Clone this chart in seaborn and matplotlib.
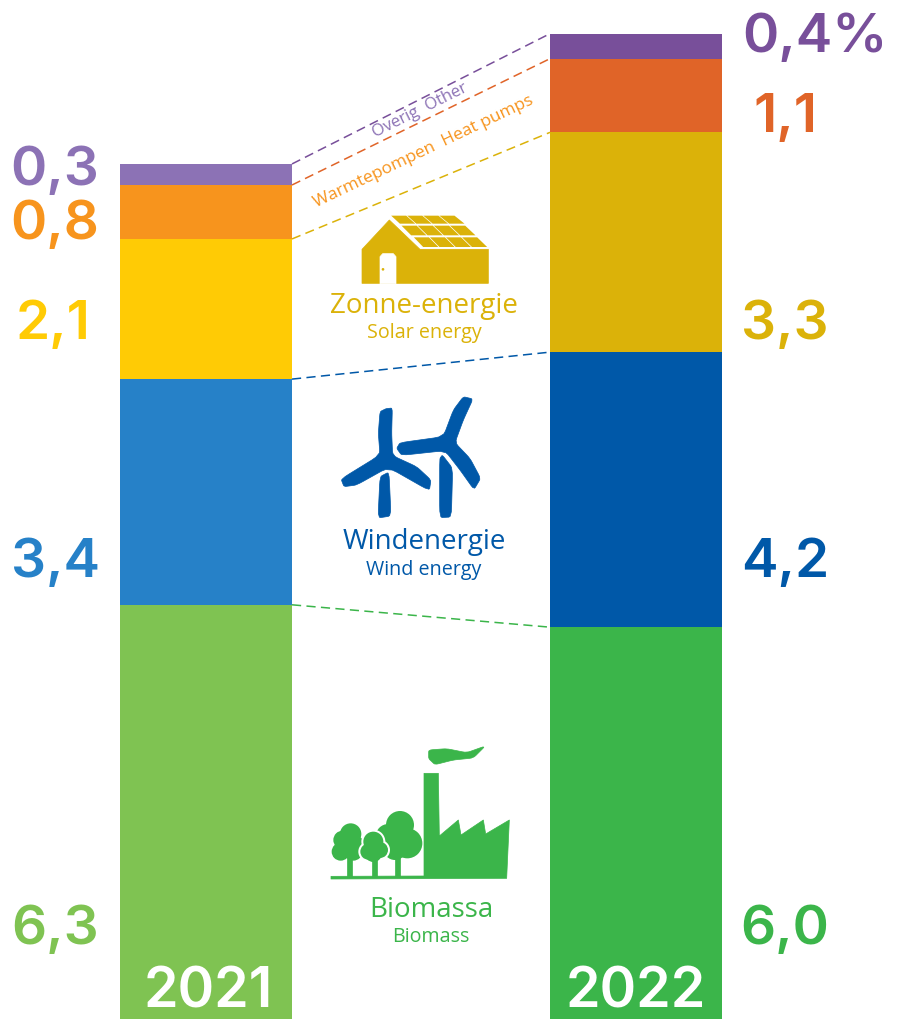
import numpy as np
import pandas as pd
import seaborn as sns
import matplotlib.pyplot as plt
from matplotlib.patches import Polygon, Circle

years = ['2021', '2022']
values_2021 = [6.31, 3.43, 2.13, 0.82, 0.32]
values_2022 = [5.97, 4.18, 3.34, 1.12, 0.38]
labels_2021 = ['6,3', '3,4', '2,1', '0,8', '0,3']
labels_2022 = ['6,0', '4,2', '3,3', '1,1', '0,4%']
colors_2021 = ['#7fc352', '#2681c8', '#ffcb05', '#f7941d', '#8c72b5']
colors_2022 = ['#3bb54a', '#0058a8', '#dbb209', '#e06428', '#784f9a']
baselines_2021 = [944, 577, 339, 239, 185]
baselines_2022 = [944, 577, 339, 132, 52]

GOLD, BLUE, GREEN = colors_2022[2], colors_2022[1], colors_2022[0]

sns.set_theme(style='white')
plt.rcParams['font.family'] = ['Open Sans', 'DejaVu Sans']

fig = plt.figure(figsize=(8.97, 10.2), dpi=100)
ax = fig.add_axes([0, 0, 1, 1])

# stacked bars, one barplot call per segment
for year, vals, cols in zip(years, [values_2021, values_2022], [colors_2021, colors_2022]):
    bottom = 0
    for v, c in zip(vals, cols):
        df = pd.DataFrame({'year': [year], 'value': [v]})
        sns.barplot(data=df, x='year', y='value', order=years, ax=ax, width=0.4,
                    color=c, bottom=bottom, saturation=1, linewidth=0, errorbar=None)
        bottom += v

# dashed connectors between the segment tops
tops_2021 = np.cumsum(values_2021)
tops_2022 = np.cumsum(values_2022)
for a, b, c in zip(tops_2021, tops_2022, colors_2022):
    ax.plot([0.2, 0.8], [a, b], color=c, lw=1.1, ls=(0, (6, 3.5)))

ax.set_xlim(-206 / 430, (897 - 206) / 430)
ax.set_ylim(1 / 65.8, 1021 / 65.8)
ax.axis('off')

# overlay in picture pixels for text and icons
ov = fig.add_axes([0, 0, 1, 1])
ov.set_xlim(0, 897)
ov.set_ylim(1020, 0)
ov.axis('off')
ov.patch.set_alpha(0)

num_font = dict(family=['Inter', 'Open Sans'], fontsize=39.5, fontweight='semibold', va='baseline', ha='center')
for lab, c, y in zip(labels_2021, colors_2021, baselines_2021):
    ov.text(53 if lab == '2,1' else 55, y, lab, color=c, **num_font)
for lab, c, y in zip(labels_2022, colors_2022, baselines_2022):
    ov.text(815 if '%' in lab else 785, y, lab, color=c, **num_font)

year_font = dict(family=['Inter', 'Open Sans'], fontsize=40, fontweight='semibold', ha='center', va='baseline', color='white')
ov.text(208, 1008, '2021', **year_font)
ov.text(636, 1008, '2022', **year_font)

ov.text(420, 111, 'Overig  Other', color=colors_2021[4], fontsize=12, rotation=26.5,
        ha='center', va='center', rotation_mode='anchor')
ov.text(424, 152, 'Warmtepompen  Heat pumps', color=colors_2021[3], fontsize=12.5, rotation=25.5,
        ha='center', va='center', rotation_mode='anchor')

names = [('Zonne-energie', 'Solar energy', 424, 306, 333, GOLD),
         ('Windenergie', 'Wind energy', 424, 542, 570, BLUE),
         ('Biomassa', 'Biomass', 431, 910, 937, GREEN)]
for nl, en, x, y1, y2, c in names:
    ov.text(x, y1, nl, color=c, fontsize=20, ha='center', va='center')
    ov.text(x, y2, en, color=c, fontsize=14.2, ha='center', va='center')


def chaikin(pts, n=2, cut=0.12):
    # corner cutting, gives the icons their soft outlines
    pts = np.array(pts, dtype=float)
    for _ in range(n):
        nxt = np.roll(pts, -1, axis=0)
        pts = np.column_stack([(1 - cut) * pts + cut * nxt, cut * pts + (1 - cut) * nxt]).reshape(-1, 2)
    return pts


def poly(pts, origin, color, smooth=False, lw=0.5):
    if smooth:
        pts = chaikin(pts)
    xy = [(origin[0] + px / 3, origin[1] + py / 3) for px, py in pts]
    ov.add_patch(Polygon(xy, closed=True, facecolor=color, edgecolor=color, lw=lw, joinstyle='round'))


def circ(x, y, r, origin, color):
    ov.add_patch(Circle((origin[0] + x / 3, origin[1] + y / 3), r / 3, facecolor=color, lw=0))


# house
o = (300, 61)
poly([(186, 568), (268, 480), (360, 568), (565, 568), (565, 670), (186, 670)], o, GOLD)
poly([(240, 590), (248, 581), (280, 581), (288, 590), (288, 671), (240, 671)], o, 'white')
circ(249, 628, 4, o, GOLD)
rows = [((272, 467), (465, 467), (495, 491), (298, 491)),
        ((303, 497), (497, 497), (528, 526), (332, 526)),
        ((340, 532), (533, 532), (563, 561), (368, 561))]
for tl, tr, br, bl in rows:
    for k in range(4):
        s, e = k / 4 + 0.008, (k + 1) / 4 - 0.008
        poly([(tl[0] + (tr[0] - tl[0]) * s, tl[1]), (tl[0] + (tr[0] - tl[0]) * e, tl[1]),
              (bl[0] + (br[0] - bl[0]) * e, bl[1]), (bl[0] + (br[0] - bl[0]) * s, bl[1])], o, GOLD, lw=0)

# wind turbines
o = (320, 391)
poly([(180, 65), (198, 56), (217, 54), (215, 130), (218, 197), (290, 230), (333, 270), (328, 302),
      (205, 232), (110, 285), (72, 290), (63, 267), (180, 195), (175, 130)], o, BLUE, smooth=True)
poly([(180, 260), (207, 246), (213, 378), (174, 384)], o, BLUE, smooth=True)
poly([(370, 140), (400, 60), (430, 20), (459, 27), (430, 90), (405, 158), (450, 205),
      (482, 265), (462, 299), (420, 240), (375, 182), (245, 196), (230, 175), (240, 158)], o, BLUE, smooth=True)
poly([(359, 206), (367, 195), (398, 235), (394, 381), (359, 383)], o, BLUE, smooth=True)

# factory and trees
o = (320, 741)
poly([(312, 100), (355, 100), (358, 288), (415, 240), (423, 285), (490, 240), (497, 282),
      (568, 240), (560, 415), (33, 417), (33, 409), (312, 408)], o, GREEN)
poly([(326, 30), (380, 26), (440, 38), (496, 18), (460, 54), (400, 60), (345, 74), (326, 56)], o, GREEN, smooth=True)
poly([(226, 340), (240, 340), (240, 410), (226, 410)], o, GREEN)
for x, y, r in [(240, 255, 42), (205, 290, 38), (262, 310, 45), (225, 325, 35)]:
    circ(x, y, r, o, GREEN)
poly([(82, 340), (95, 340), (95, 410), (82, 410)], o, GREEN)
for x, y, r in [(92, 282, 32), (68, 300, 28), (108, 312, 24), (62, 335, 27), (100, 335, 27)]:
    circ(x, y, r, o, GREEN)
tree2 = [(160, 305, 30), (145, 335, 24), (180, 330, 24), (160, 340, 26)]
for x, y, r in tree2:
    circ(x, y, r + 6, o, 'white')
poly([(156, 350), (170, 350), (170, 410), (156, 410)], o, GREEN)
for x, y, r in tree2:
    circ(x, y, r, o, GREEN)

fig.savefig('out.png', dpi=100)
